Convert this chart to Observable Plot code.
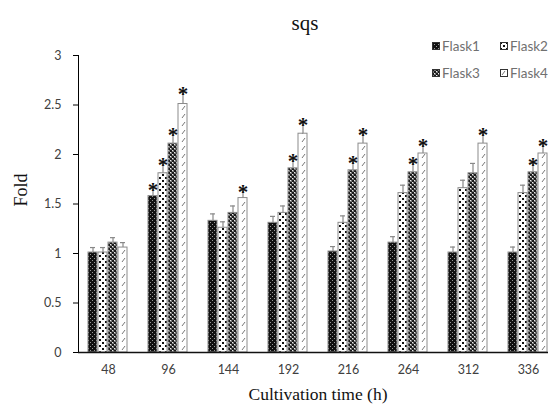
<!DOCTYPE html>
<html>
<head>
<meta charset="utf-8">
<script src="https://cdn.jsdelivr.net/npm/d3@7"></script>
<script src="https://cdn.jsdelivr.net/npm/@observablehq/plot@0.6"></script>
<style>
  html, body { margin: 0; padding: 0; background: #fff; }
  #wrap { position: relative; width: 548px; height: 406px; overflow: hidden; background: #fff; }
  #chart { position: absolute; left: 0; top: 0; width: 558px; }
  #chart svg { max-width: none !important; }
  #chart svg g[aria-label*="axis"] text { fill: #404040; }
  .lbl { position: absolute; font-family: "Liberation Serif", serif; color: #111; white-space: nowrap; line-height: 1; }
  #title { left: 305px; top: 13px; transform: translateX(-50%); font-size: 21px; }
  #xlab { left: 318px; top: 386px; transform: translateX(-50%); font-size: 17.5px; }
  #ylab { left: 21px; top: 190px; transform: translate(-50%, -50%) rotate(-90deg); font-size: 18px; }
  #legend { position: absolute; left: 432px; top: 38px; font-family: Lato, sans-serif; font-size: 13.5px; color: #707070; }
  #legend .item { position: absolute; display: flex; align-items: center; white-space: nowrap; line-height: 16px; }
  #legend svg { margin-right: 2px; }
</style>
</head>
<body>
<svg width="0" height="0" style="position:absolute">
  <defs>
    <pattern id="p1" width="4" height="4" patternUnits="userSpaceOnUse">
      <rect width="4" height="4" fill="#111"/>
      <rect x="0" y="0" width="1" height="1" fill="#999"/>
      <rect x="2" y="2" width="1" height="1" fill="#999"/>
    </pattern>
    <pattern id="p2" width="6" height="6" patternUnits="userSpaceOnUse">
      <rect width="6" height="6" fill="#fff"/>
      <rect x="0" y="0" width="2" height="2" fill="#111"/>
      <rect x="3" y="3" width="2" height="2" fill="#111"/>
    </pattern>
    <pattern id="p3" width="4" height="4" patternUnits="userSpaceOnUse">
      <rect width="4" height="4" fill="#777"/>
      <rect x="0" y="0" width="2" height="2" fill="#1a1a1a"/>
      <rect x="2" y="2" width="2" height="2" fill="#1a1a1a"/>
      <rect x="2" y="0" width="1" height="1" fill="#eee"/>
      <rect x="0" y="2" width="1" height="1" fill="#eee"/>
    </pattern>
    <pattern id="p4" width="8" height="8" patternUnits="userSpaceOnUse">
      <rect width="8" height="8" fill="#fff"/>
      <line x1="2" y1="6" x2="5" y2="2" stroke="#777" stroke-width="1"/>
    </pattern>
  </defs>
</svg>
<div id="wrap">
  <div id="chart"></div>
  <div class="lbl" id="title">sqs</div>
  <div class="lbl" id="xlab">Cultivation time (h)</div>
  <div class="lbl" id="ylab">Fold</div>
  <div id="legend"></div>
</div>
<script>
const times = ["48", "96", "144", "192", "216", "264", "312", "336"];
const flasks = ["Flask1", "Flask2", "Flask3", "Flask4"];
const flask1 = [1.01, 1.58, 1.33, 1.31, 1.02, 1.11, 1.01, 1.01];
const flask2 = [1.01, 1.81, 1.26, 1.41, 1.31, 1.61, 1.66, 1.61];
const flask3 = [1.11, 2.11, 1.41, 1.86, 1.84, 1.82, 1.81, 1.82];
const flask4 = [1.06, 2.51, 1.56, 2.21, 2.11, 2.01, 2.11, 2.01];
const err1 = [0.05, 0.08, 0.07, 0.065, 0.05, 0.06, 0.055, 0.055];
const err2 = [0.05, 0.10, 0.06, 0.07, 0.07, 0.08, 0.08, 0.08];
const err3 = [0.05, 0.11, 0.07, 0.09, 0.09, 0.10, 0.10, 0.09];
const err4 = [0.05, 0.12, 0.08, 0.11, 0.11, 0.10, 0.11, 0.10];
const sig1 = [0, 1, 0, 0, 0, 0, 0, 0];
const sig2 = [0, 1, 0, 0, 0, 0, 0, 0];
const sig3 = [0, 1, 0, 1, 1, 1, 0, 1];
const sig4 = [0, 1, 1, 1, 1, 1, 1, 1];
const yTicks = [0, 0.5, 1, 1.5, 2, 2.5, 3];
const patterns = ["url(#p1)", "url(#p2)", "url(#p3)", "url(#p4)"];

const vals = [flask1, flask2, flask3, flask4];
const errs = [err1, err2, err3, err4];
const sigs = [sig1, sig2, sig3, sig4];
const rows = [];
times.forEach((t, i) => flasks.forEach((f, j) => {
  rows.push({time: t, flask: f, value: vals[j][i], err: errs[j][i], sig: !!sigs[j][i]});
}));

const chart = Plot.plot({
  width: 558,
  height: 406,
  marginTop: 55,
  marginBottom: 54,
  marginLeft: 78,
  marginRight: 0,
  style: {fontFamily: "Lato, sans-serif", fontSize: "12.5px", color: "#000", background: "transparent", maxWidth: "none"},
  facet: {data: rows, x: "time"},
  fx: {domain: times, padding: 0, axis: "bottom", tickSize: 0, tickPadding: 13, label: null},
  x: {domain: flasks, axis: null, paddingInner: 0.09, paddingOuter: 0.845},
  y: {domain: [0, 3], ticks: yTicks, tickFormat: d => String(d), tickSize: 5, tickPadding: 12, line: true, label: null, grid: false},
  color: {domain: flasks, range: patterns, legend: false},
  marks: [
    Plot.barY(rows, {x: "flask", y: "value", fill: "flask", stroke: "#8c8c8c", strokeWidth: 1}),
    Plot.ruleX(rows, {x: "flask", y1: "value", y2: d => d.value + d.err, stroke: "#888", strokeWidth: 1.2}),
    Plot.tickY(rows, {x: "flask", y: d => d.value + d.err, stroke: "#888", strokeWidth: 1.2, insetLeft: 2, insetRight: 2}),
    Plot.text(rows, {filter: d => d.sig, x: "flask", y: d => d.value + d.err, text: () => "*", lineAnchor: "bottom", dy: 9, fontSize: 21, fontWeight: "bold", fontFamily: "Liberation Serif, serif", fill: "#111"}),
    Plot.ruleY([0], {stroke: "#111", strokeWidth: 1.5})
  ]
});
document.getElementById("chart").appendChild(chart);

// legend
const legend = document.getElementById("legend");
const legendPos = [[0, 0], [68, 0], [0, 27], [68, 27]];
flasks.forEach((f, j) => {
  const item = document.createElement("div");
  item.className = "item";
  item.style.left = legendPos[j][0] + "px";
  item.style.top = legendPos[j][1] + "px";
  item.innerHTML = `<svg width="8" height="8"><rect x="0.5" y="0.5" width="7" height="7" fill="${patterns[j]}" stroke="#333" stroke-width="1"/></svg><span>${f}</span>`;
  legend.appendChild(item);
});
</script>
</body>
</html>
